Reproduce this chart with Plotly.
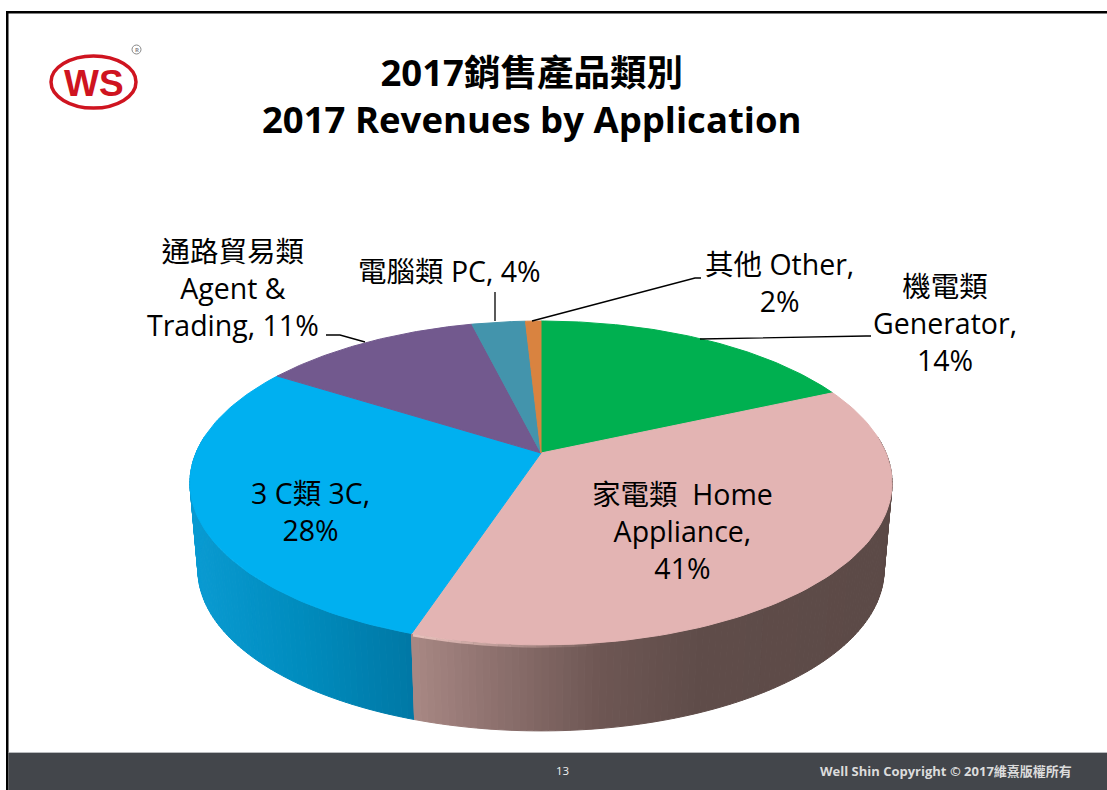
import numpy as np
import plotly.graph_objects as go

# ---- data ----
categories = ["Generator", "Home Appliance", "3C", "Agent & Trading", "PC", "Other"]
label_percent = [14, 41, 28, 11, 4, 2]
# angular share of each slice as actually drawn in the reference's tilted pie
drawn_share = [18.2, 36.8, 29.1, 12.1, 2.95, 0.85]
top_colors = ["#00b050", "#e3b4b3", "#00b0f0", "#72598e", "#4394ac", "#d98340"]
wall_x = {1: [413, 500, 600, 700, 895], 2: [190, 300, 413]}
wall_rgb = {1: [(168, 136, 132), (140, 112, 109), (110, 87, 84), (96, 77, 74), (92, 74, 71)],
            2: [(10, 155, 210), (0, 140, 190), (0, 120, 165)]}
title_lines = ["2017銷售產品類別", "2017 Revenues by Application"]
label_texts = [
    ["機電類", "Generator,", f"{label_percent[0]}%"],
    ["家電類  Home", "Appliance,", f"{label_percent[1]}%"],
    ["3 C類 3C,", f"{label_percent[2]}%"],
    ["通路貿易類", "Agent &", f"Trading, {label_percent[3]}%"],
    [f"電腦類 PC, {label_percent[4]}%"],
    ["其他 Other,", f"{label_percent[5]}%"],
]
label_xy = [(945, 323), (682, 531), (310, 511), (233, 288), (449, 271), (779, 282)]
FONT = "Open Sans, Noto Sans CJK TC, sans-serif"

# pie geometry (pixels of the 1107x790 page)
HX, HY = 541, 453
A, B, P = 345.0, 156.4, 0.185
TOP_C, TOP_R = (541, 483), (351, 162)
BOT_C, BOT_R = (541, 570), (343, 161)


def rim(theta_deg):
    t = np.radians(theta_deg)
    s = 1 / (1 + P * np.cos(t))
    return HX + A * np.sin(t) * s, HY - B * np.cos(t) * s


def lower(x, y):
    return (BOT_C[0] + BOT_R[0] * (x - TOP_C[0]) / TOP_R[0],
            BOT_C[1] + BOT_R[1] * (y - TOP_C[1]) / TOP_R[1])


edges = np.concatenate([[0], np.cumsum(drawn_share)]) / sum(drawn_share) * 360
fig = go.Figure()


def poly(xs, ys, color):
    fig.add_trace(go.Scatter(x=xs, y=ys, mode="lines", fill="toself", fillcolor=color,
                             line=dict(color=color, width=1), hoverinfo="skip", showlegend=False))


# side wall, in thin gradient strips
for i in (2, 1):
    a0 = max(edges[i], 84)
    a1 = min(edges[i + 1], 276)
    cuts = np.arange(a0, a1 + 1, 1.0)
    cuts[-1] = a1
    for c0, c1 in zip(cuts[:-1], cuts[1:]):
        ts = np.array([c0, c1])
        x, y = rim(ts)
        xb, yb = lower(x, y)
        xm = x.mean()
        rgb = [np.interp(xm, wall_x[i], [c[k] for c in wall_rgb[i]]) for k in range(3)]
        col = "rgb(%d,%d,%d)" % tuple(rgb)
        poly([x[0], x[1], xb[1], xb[0], x[0]], [y[0], y[1], yb[1], yb[0], y[0]], col)

# top face
for i, col in enumerate(top_colors):
    ts = np.linspace(edges[i], edges[i + 1], 90)
    x, y = rim(ts)
    poly(np.r_[HX, x, HX], np.r_[HY, y, HY], col)

# light highlight along the front rim of the pink slice, fading to the right
hl = np.linspace(edges[2] - 0.2, 172, 16)
for k, (c0, c1) in enumerate(zip(hl[:-1], hl[1:])):
    x, y = rim(np.linspace(c0, c1, 5))
    alpha = 0.8 * (1 - k / 15)
    fig.add_trace(go.Scatter(x=x, y=y + 1.5, mode="lines",
                             line=dict(color=f"rgba(246,205,200,{alpha:.2f})", width=2.5),
                             hoverinfo="skip", showlegend=False))

shapes = [
    dict(type="rect", x0=6, x1=1107, y0=11, y1=13.5, fillcolor="#000", line_width=0),
    dict(type="rect", x0=6, x1=8.5, y0=11, y1=790, fillcolor="#000", line_width=0),
    dict(type="rect", x0=8.5, x1=1107, y0=752, y1=790, fillcolor="#43464b", line_width=0),
    dict(type="line", x0=8.5, x1=1107, y0=752.5, y1=752.5, line=dict(color="#b9bbbe", width=1)),
    dict(type="circle", x0=51, x1=136, y0=56, y1=108, line=dict(color="#cf1420", width=3.5)),
    dict(type="circle", x0=132, x1=141, y0=45, y1=54, line=dict(color="#888", width=1)),
]
for pts in [[(326, 335), (340, 335), (365, 342)],
            [(495, 292), (495, 321)],
            [(532, 321), (695, 278), (701, 278)],
            [(700, 339), (866, 336), (871, 336)]]:
    d = "M" + " L".join(f"{px},{py}" for px, py in pts)
    shapes.append(dict(type="path", path=d, line=dict(color="#000", width=1.3)))

ann = []


def text(x, y, s, size, color="#000", bold=False, font=FONT):
    ann.append(dict(x=x, y=y, xref="x", yref="y", text=f"<b>{s}</b>" if bold else s, showarrow=False,
                    align="center", xanchor="center", yanchor="middle",
                    font=dict(size=size, color=color, family=font)))


text(532, 95, "<br>".join(title_lines), 36.5, bold=True)
for (lx, ly), lines in zip(label_xy, label_texts):
    text(lx, ly, "<br>".join(lines), 28.5)
text(94, 83, "WS", 37, "#cf1420", True, "Liberation Sans, sans-serif")
text(136.5, 49.5, "R", 6, "#888", True)
text(562, 770, "13", 11.5, "#f0f0f0")
text(946, 771, "Well Shin Copyright © 2017維熹版權所有", 13, "#dcdcdc", True)

fig.update_layout(
    width=1107, height=790, margin=dict(l=0, r=0, t=0, b=0), showlegend=False,
    paper_bgcolor="#fff", plot_bgcolor="#fff", shapes=shapes, annotations=ann,
    xaxis=dict(range=[0, 1107], visible=False, fixedrange=True),
    yaxis=dict(range=[790, 0], visible=False, fixedrange=True),
)
fig.write_html("out.html", config={"displayModeBar": False},
               post_script="document.body.style.margin='0';document.body.style.overflow='hidden';")
